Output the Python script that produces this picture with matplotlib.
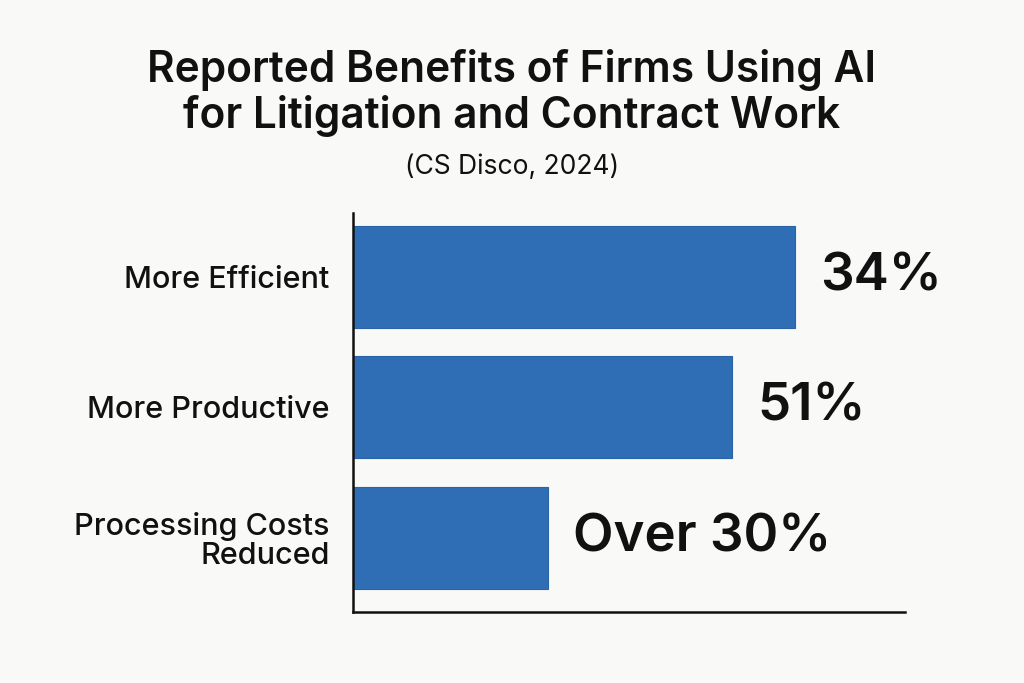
import matplotlib.pyplot as plt

categories = ["More Efficient", "More Productive", "Processing Costs\nReduced"]
bar_lengths = [80, 68.7, 35.3]
value_labels = ["34%", "51%", "Over 30%"]

bg = "#f9f9f7"
fig = plt.figure(figsize=(10.24, 6.83), dpi=100, facecolor=bg)
ax = fig.add_axes([0.345, 0.104, 0.539, 0.584], facecolor=bg)
font = "Inter"
ys = list(range(len(categories)))
ax.barh(ys, bar_lengths, height=0.78, color="#2f6db5", edgecolor="#2a63a6", linewidth=0.8)
for y, v, t in zip(ys, bar_lengths, value_labels):
    ax.annotate(t, (v, y), xytext=(18, 0), textcoords="offset points", va="center", ha="left",
                fontsize=38, fontweight="semibold", family=font, color="#111111")
ax.set_xlim(0, 100)
ax.set_ylim(2.57, -0.49)
ax.set_yticks(ys)
ax.set_yticklabels(categories, fontsize=22, family=font, fontweight="medium", color="#111111",
                   linespacing=1.05)
ax.tick_params(axis="y", length=0, pad=17)
ax.set_xticks([])
for s in ["top", "right"]:
    ax.spines[s].set_visible(False)
for s in ["left", "bottom"]:
    ax.spines[s].set_linewidth(1.8)
    ax.spines[s].set_color("#111111")
for lbl in ax.get_yticklabels():
    lbl.set_multialignment("right")
fig.text(0.5, 1 - 93/683, "Reported Benefits of Firms Using AI\nfor Litigation and Contract Work",
         ha="center", va="center", fontsize=30.5, fontweight="semibold", family=font,
         color="#111111", linespacing=1.1)
fig.text(0.5, 1 - 167/683, "(CS Disco, 2024)", ha="center", va="center", fontsize=19,
         family=font, color="#111111")
fig.savefig("out.png", dpi=100, facecolor=bg)
